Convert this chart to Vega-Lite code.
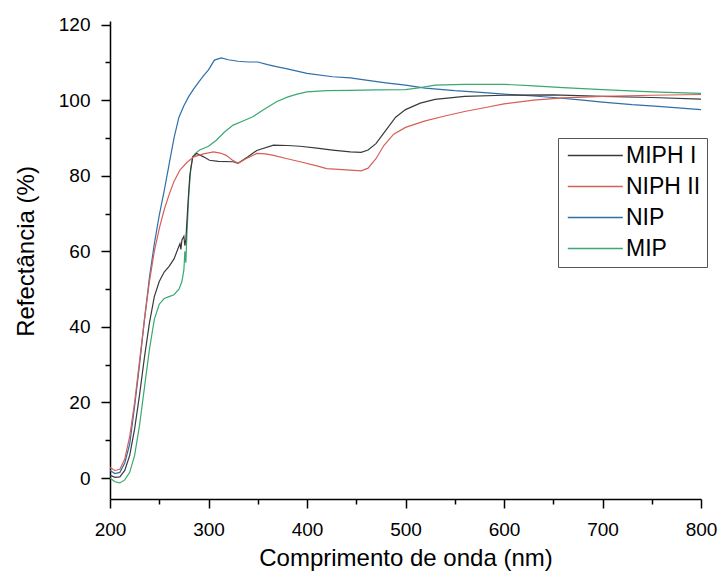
{
  "$schema": "https://vega.github.io/schema/vega-lite/v6.json",
  "width": 591,
  "height": 478,
  "autosize": {"type": "none"},
  "padding": {"left": 110, "top": 21, "right": 20, "bottom": 75},
  "background": "white",
  "config": {
    "font": "Liberation Sans",
    "view": {"stroke": null},
    "axis": {"domainColor": "black", "tickColor": "black", "labelColor": "black", "titleColor": "black", "grid": false, "domainWidth": 1.5, "tickWidth": 1.5, "labelFont": "Liberation Sans", "titleFont": "Liberation Sans", "titleFontWeight": "normal"}
  },
  "data": {
    "values": [
      {"s": "NIP", "x": 200, "y": 2.0}, {"s": "NIP", "x": 205, "y": 1.2}, {"s": "NIP", "x": 210, "y": 1.5}, {"s": "NIP", "x": 215, "y": 4}, {"s": "NIP", "x": 220, "y": 9}, {"s": "NIP", "x": 225, "y": 19}, {"s": "NIP", "x": 230, "y": 30}, {"s": "NIP", "x": 235, "y": 42}, {"s": "NIP", "x": 240, "y": 53}, {"s": "NIP", "x": 245, "y": 62}, {"s": "NIP", "x": 250, "y": 69.5}, {"s": "NIP", "x": 255, "y": 76}, {"s": "NIP", "x": 260, "y": 83}, {"s": "NIP", "x": 265, "y": 90}, {"s": "NIP", "x": 270, "y": 95.5}, {"s": "NIP", "x": 275, "y": 98.5}, {"s": "NIP", "x": 280, "y": 101}, {"s": "NIP", "x": 285, "y": 103}, {"s": "NIP", "x": 290, "y": 104.8}, {"s": "NIP", "x": 295, "y": 106.5}, {"s": "NIP", "x": 300, "y": 108}, {"s": "NIP", "x": 306, "y": 110.6}, {"s": "NIP", "x": 313, "y": 111.2}, {"s": "NIP", "x": 320, "y": 110.7}, {"s": "NIP", "x": 330, "y": 110.3}, {"s": "NIP", "x": 340, "y": 110.1}, {"s": "NIP", "x": 350, "y": 110.1}, {"s": "NIP", "x": 360, "y": 109.4}, {"s": "NIP", "x": 370, "y": 108.8}, {"s": "NIP", "x": 380, "y": 108.3}, {"s": "NIP", "x": 400, "y": 107.1}, {"s": "NIP", "x": 426, "y": 106.2}, {"s": "NIP", "x": 444, "y": 105.9}, {"s": "NIP", "x": 460, "y": 105.3}, {"s": "NIP", "x": 480, "y": 104.6}, {"s": "NIP", "x": 500, "y": 104}, {"s": "NIP", "x": 520, "y": 103.2}, {"s": "NIP", "x": 550, "y": 102.5}, {"s": "NIP", "x": 580, "y": 102}, {"s": "NIP", "x": 600, "y": 101.6}, {"s": "NIP", "x": 630, "y": 101.1}, {"s": "NIP", "x": 650, "y": 100.7}, {"s": "NIP", "x": 680, "y": 100}, {"s": "NIP", "x": 700, "y": 99.5}, {"s": "NIP", "x": 730, "y": 98.8}, {"s": "NIP", "x": 760, "y": 98.3}, {"s": "NIP", "x": 800, "y": 97.5},

      {"s": "MIP", "x": 200, "y": 0}, {"s": "MIP", "x": 205, "y": -1}, {"s": "MIP", "x": 210, "y": -1.3}, {"s": "MIP", "x": 215, "y": -0.5}, {"s": "MIP", "x": 220, "y": 1.5}, {"s": "MIP", "x": 225, "y": 6}, {"s": "MIP", "x": 230, "y": 14}, {"s": "MIP", "x": 235, "y": 24}, {"s": "MIP", "x": 240, "y": 34}, {"s": "MIP", "x": 245, "y": 42}, {"s": "MIP", "x": 250, "y": 46}, {"s": "MIP", "x": 255, "y": 47.5}, {"s": "MIP", "x": 260, "y": 48}, {"s": "MIP", "x": 265, "y": 48.5}, {"s": "MIP", "x": 270, "y": 50}, {"s": "MIP", "x": 273, "y": 52}, {"s": "MIP", "x": 275, "y": 55}, {"s": "MIP", "x": 276, "y": 60}, {"s": "MIP", "x": 277, "y": 57}, {"s": "MIP", "x": 278, "y": 64}, {"s": "MIP", "x": 280, "y": 75}, {"s": "MIP", "x": 282, "y": 82}, {"s": "MIP", "x": 284, "y": 85}, {"s": "MIP", "x": 287, "y": 86}, {"s": "MIP", "x": 291, "y": 86.8}, {"s": "MIP", "x": 300, "y": 87.8}, {"s": "MIP", "x": 308, "y": 89.4}, {"s": "MIP", "x": 316, "y": 91.5}, {"s": "MIP", "x": 325, "y": 93.4}, {"s": "MIP", "x": 335, "y": 94.5}, {"s": "MIP", "x": 345, "y": 95.6}, {"s": "MIP", "x": 355, "y": 97.3}, {"s": "MIP", "x": 369, "y": 99.6}, {"s": "MIP", "x": 380, "y": 100.8}, {"s": "MIP", "x": 390, "y": 101.6}, {"s": "MIP", "x": 400, "y": 102.2}, {"s": "MIP", "x": 420, "y": 102.5}, {"s": "MIP", "x": 444, "y": 102.6}, {"s": "MIP", "x": 470, "y": 102.7}, {"s": "MIP", "x": 500, "y": 102.8}, {"s": "MIP", "x": 515, "y": 103.3}, {"s": "MIP", "x": 530, "y": 104}, {"s": "MIP", "x": 560, "y": 104.2}, {"s": "MIP", "x": 600, "y": 104.2}, {"s": "MIP", "x": 630, "y": 103.8}, {"s": "MIP", "x": 660, "y": 103.3}, {"s": "MIP", "x": 700, "y": 102.8}, {"s": "MIP", "x": 750, "y": 102.2}, {"s": "MIP", "x": 800, "y": 101.8},

      {"s": "MIPH I", "x": 200, "y": 0.8}, {"s": "MIPH I", "x": 205, "y": 0.2}, {"s": "MIPH I", "x": 210, "y": 0.3}, {"s": "MIPH I", "x": 215, "y": 2}, {"s": "MIPH I", "x": 220, "y": 6}, {"s": "MIPH I", "x": 225, "y": 13}, {"s": "MIPH I", "x": 230, "y": 22}, {"s": "MIPH I", "x": 235, "y": 32}, {"s": "MIPH I", "x": 240, "y": 41}, {"s": "MIPH I", "x": 245, "y": 48}, {"s": "MIPH I", "x": 250, "y": 52}, {"s": "MIPH I", "x": 255, "y": 54.5}, {"s": "MIPH I", "x": 260, "y": 56}, {"s": "MIPH I", "x": 265, "y": 58}, {"s": "MIPH I", "x": 268, "y": 60}, {"s": "MIPH I", "x": 271, "y": 62}, {"s": "MIPH I", "x": 272, "y": 60.5}, {"s": "MIPH I", "x": 273, "y": 63}, {"s": "MIPH I", "x": 275, "y": 64}, {"s": "MIPH I", "x": 276, "y": 61.5}, {"s": "MIPH I", "x": 277, "y": 63}, {"s": "MIPH I", "x": 279, "y": 72}, {"s": "MIPH I", "x": 281, "y": 80}, {"s": "MIPH I", "x": 284, "y": 85}, {"s": "MIPH I", "x": 288, "y": 85.9}, {"s": "MIPH I", "x": 295, "y": 85}, {"s": "MIPH I", "x": 301, "y": 84.1}, {"s": "MIPH I", "x": 310, "y": 83.8}, {"s": "MIPH I", "x": 325, "y": 83.7}, {"s": "MIPH I", "x": 330, "y": 83.3}, {"s": "MIPH I", "x": 340, "y": 85}, {"s": "MIPH I", "x": 349, "y": 86.7}, {"s": "MIPH I", "x": 366, "y": 88.1}, {"s": "MIPH I", "x": 380, "y": 88}, {"s": "MIPH I", "x": 393, "y": 87.8}, {"s": "MIPH I", "x": 410, "y": 87.3}, {"s": "MIPH I", "x": 426, "y": 86.8}, {"s": "MIPH I", "x": 444, "y": 86.3}, {"s": "MIPH I", "x": 455, "y": 86.2}, {"s": "MIPH I", "x": 462, "y": 86.8}, {"s": "MIPH I", "x": 470, "y": 88.5}, {"s": "MIPH I", "x": 480, "y": 92}, {"s": "MIPH I", "x": 490, "y": 95.5}, {"s": "MIPH I", "x": 500, "y": 97.5}, {"s": "MIPH I", "x": 515, "y": 99.2}, {"s": "MIPH I", "x": 530, "y": 100.2}, {"s": "MIPH I", "x": 560, "y": 101}, {"s": "MIPH I", "x": 600, "y": 101.3}, {"s": "MIPH I", "x": 650, "y": 101.4}, {"s": "MIPH I", "x": 700, "y": 101}, {"s": "MIPH I", "x": 750, "y": 100.7}, {"s": "MIPH I", "x": 800, "y": 100.3},

      {"s": "NIPH II", "x": 200, "y": 2.8}, {"s": "NIPH II", "x": 205, "y": 2}, {"s": "NIPH II", "x": 210, "y": 2.3}, {"s": "NIPH II", "x": 215, "y": 5}, {"s": "NIPH II", "x": 220, "y": 11}, {"s": "NIPH II", "x": 225, "y": 20}, {"s": "NIPH II", "x": 230, "y": 31}, {"s": "NIPH II", "x": 235, "y": 42}, {"s": "NIPH II", "x": 240, "y": 52}, {"s": "NIPH II", "x": 245, "y": 60}, {"s": "NIPH II", "x": 250, "y": 66}, {"s": "NIPH II", "x": 255, "y": 71}, {"s": "NIPH II", "x": 260, "y": 75}, {"s": "NIPH II", "x": 265, "y": 78.5}, {"s": "NIPH II", "x": 271, "y": 81.5}, {"s": "NIPH II", "x": 278, "y": 83.5}, {"s": "NIPH II", "x": 285, "y": 85}, {"s": "NIPH II", "x": 295, "y": 85.8}, {"s": "NIPH II", "x": 305, "y": 86.3}, {"s": "NIPH II", "x": 312, "y": 86}, {"s": "NIPH II", "x": 318, "y": 85.4}, {"s": "NIPH II", "x": 325, "y": 84}, {"s": "NIPH II", "x": 330, "y": 83.3}, {"s": "NIPH II", "x": 338, "y": 84.5}, {"s": "NIPH II", "x": 349, "y": 85.9}, {"s": "NIPH II", "x": 358, "y": 85.8}, {"s": "NIPH II", "x": 366, "y": 85.4}, {"s": "NIPH II", "x": 380, "y": 84.5}, {"s": "NIPH II", "x": 393, "y": 83.7}, {"s": "NIPH II", "x": 410, "y": 82.6}, {"s": "NIPH II", "x": 420, "y": 81.9}, {"s": "NIPH II", "x": 444, "y": 81.5}, {"s": "NIPH II", "x": 455, "y": 81.3}, {"s": "NIPH II", "x": 462, "y": 82}, {"s": "NIPH II", "x": 470, "y": 84.5}, {"s": "NIPH II", "x": 478, "y": 88}, {"s": "NIPH II", "x": 488, "y": 91}, {"s": "NIPH II", "x": 500, "y": 92.8}, {"s": "NIPH II", "x": 520, "y": 94.5}, {"s": "NIPH II", "x": 540, "y": 95.8}, {"s": "NIPH II", "x": 560, "y": 97}, {"s": "NIPH II", "x": 580, "y": 98}, {"s": "NIPH II", "x": 600, "y": 99}, {"s": "NIPH II", "x": 630, "y": 100}, {"s": "NIPH II", "x": 660, "y": 100.6}, {"s": "NIPH II", "x": 700, "y": 101}, {"s": "NIPH II", "x": 750, "y": 101.3}, {"s": "NIPH II", "x": 800, "y": 101.5}
    ]
  },
  "mark": {"type": "line", "strokeWidth": 1.2, "clip": true},
  "encoding": {
    "x": {
      "field": "x", "type": "quantitative",
      "scale": {"domain": [200, 800], "nice": false, "zero": false},
      "axis": {
        "title": "Comprimento de onda (nm)",
        "titleFontSize": 24, "titleY": 66, "titleBaseline": "alphabetic",
        "values": [200, 250, 300, 350, 400, 450, 500, 550, 600, 650, 700, 750, 800],
        "labelExpr": "datum.value % 100 ? '' : datum.label",
        "tickSize": {"condition": {"test": "datum.value % 100 !== 0", "value": 5}, "value": 9},
        "labelFontSize": 19, "labelPadding": 12, "labelFlush": false, "labelOverlap": false
      }
    },
    "y": {
      "field": "y", "type": "quantitative",
      "scale": {"domain": [-5.55, 120.95], "nice": false, "zero": false},
      "axis": {
        "title": "Refectância (%)",
        "titleFontSize": 24, "titleX": -84, "titleY": 230, "titleBaseline": "middle", "titleAngle": -90,
        "values": [0, 10, 20, 30, 40, 50, 60, 70, 80, 90, 100, 110, 120],
        "labelExpr": "datum.value % 20 ? '' : datum.label",
        "tickSize": {"condition": {"test": "datum.value % 20 !== 0", "value": 5}, "value": 9},
        "labelFontSize": 19, "labelPadding": 11, "labelFlush": false, "labelOverlap": false
      }
    },
    "color": {
      "field": "s", "type": "nominal",
      "scale": {"domain": ["MIPH I", "NIPH II", "NIP", "MIP"], "range": ["#3a3a3a", "#d65f58", "#2e6fa8", "#3aa870"]},
      "legend": {
        "title": null, "orient": "none", "legendX": 448, "legendY": 117,
        "symbolType": "M-1.4,0H8.6", "symbolSize": 121, "symbolStrokeWidth": 1.5,
        "labelFontSize": 23, "labelOffset": 39, "rowPadding": 7, "padding": 6,
        "strokeColor": "#555555", "labelColor": "black", "labelFont": "Liberation Sans"
      }
    }
  }
}
